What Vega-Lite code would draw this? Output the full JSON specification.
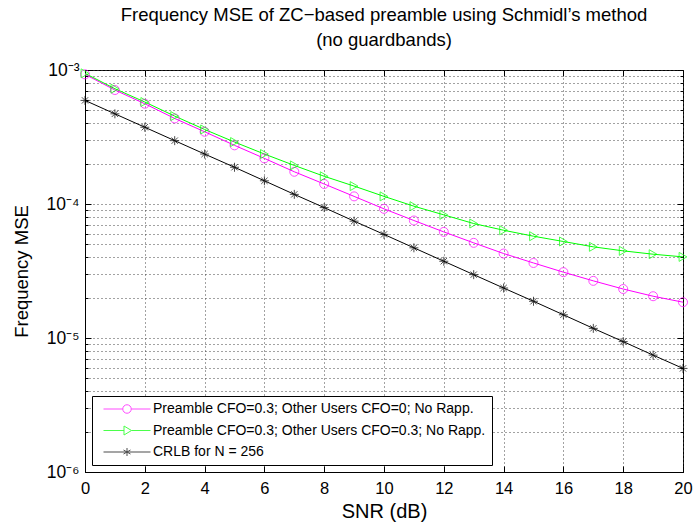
{
  "$schema": "https://vega.github.io/schema/vega-lite/v6.json",
  "width": 598,
  "height": 402,
  "autosize": {"type": "none"},
  "padding": {"left": 85, "top": 70, "right": 12, "bottom": 57},
  "background": "white",
  "title": {
    "text": ["Frequency MSE of ZC\u2212based preamble using Schmidl\u2019s method", "(no guardbands)"],
    "font": "Liberation Sans",
    "fontSize": 18.5,
    "fontWeight": "normal",
    "color": "black",
    "anchor": "middle",
    "lineHeight": 25,
    "offset": 12
  },
  "config": {
    "view": {"stroke": "black", "strokeWidth": 1},
    "font": "Liberation Sans"
  },
  "data": {
    "values": [
      {"snr": 0, "mse": 0.000928, "series": "Preamble CFO=0.3; Other Users CFO=0; No Rapp."},
      {"snr": 1, "mse": 0.000709, "series": "Preamble CFO=0.3; Other Users CFO=0; No Rapp."},
      {"snr": 2, "mse": 0.000560, "series": "Preamble CFO=0.3; Other Users CFO=0; No Rapp."},
      {"snr": 3, "mse": 0.000435, "series": "Preamble CFO=0.3; Other Users CFO=0; No Rapp."},
      {"snr": 4, "mse": 0.000346, "series": "Preamble CFO=0.3; Other Users CFO=0; No Rapp."},
      {"snr": 5, "mse": 0.000274, "series": "Preamble CFO=0.3; Other Users CFO=0; No Rapp."},
      {"snr": 6, "mse": 0.000219, "series": "Preamble CFO=0.3; Other Users CFO=0; No Rapp."},
      {"snr": 7, "mse": 0.000174, "series": "Preamble CFO=0.3; Other Users CFO=0; No Rapp."},
      {"snr": 8, "mse": 0.000141, "series": "Preamble CFO=0.3; Other Users CFO=0; No Rapp."},
      {"snr": 9, "mse": 0.000114, "series": "Preamble CFO=0.3; Other Users CFO=0; No Rapp."},
      {"snr": 10, "mse": 0.0000920, "series": "Preamble CFO=0.3; Other Users CFO=0; No Rapp."},
      {"snr": 11, "mse": 0.0000753, "series": "Preamble CFO=0.3; Other Users CFO=0; No Rapp."},
      {"snr": 12, "mse": 0.0000619, "series": "Preamble CFO=0.3; Other Users CFO=0; No Rapp."},
      {"snr": 13, "mse": 0.0000513, "series": "Preamble CFO=0.3; Other Users CFO=0; No Rapp."},
      {"snr": 14, "mse": 0.0000427, "series": "Preamble CFO=0.3; Other Users CFO=0; No Rapp."},
      {"snr": 15, "mse": 0.0000363, "series": "Preamble CFO=0.3; Other Users CFO=0; No Rapp."},
      {"snr": 16, "mse": 0.0000310, "series": "Preamble CFO=0.3; Other Users CFO=0; No Rapp."},
      {"snr": 17, "mse": 0.0000267, "series": "Preamble CFO=0.3; Other Users CFO=0; No Rapp."},
      {"snr": 18, "mse": 0.0000232, "series": "Preamble CFO=0.3; Other Users CFO=0; No Rapp."},
      {"snr": 19, "mse": 0.0000205, "series": "Preamble CFO=0.3; Other Users CFO=0; No Rapp."},
      {"snr": 20, "mse": 0.0000185, "series": "Preamble CFO=0.3; Other Users CFO=0; No Rapp."},
      {"snr": 0, "mse": 0.000944, "series": "Preamble CFO=0.3; Other Users CFO=0.3; No Rapp."},
      {"snr": 1, "mse": 0.000725, "series": "Preamble CFO=0.3; Other Users CFO=0.3; No Rapp."},
      {"snr": 2, "mse": 0.000577, "series": "Preamble CFO=0.3; Other Users CFO=0.3; No Rapp."},
      {"snr": 3, "mse": 0.000453, "series": "Preamble CFO=0.3; Other Users CFO=0.3; No Rapp."},
      {"snr": 4, "mse": 0.000360, "series": "Preamble CFO=0.3; Other Users CFO=0.3; No Rapp."},
      {"snr": 5, "mse": 0.000290, "series": "Preamble CFO=0.3; Other Users CFO=0.3; No Rapp."},
      {"snr": 6, "mse": 0.000236, "series": "Preamble CFO=0.3; Other Users CFO=0.3; No Rapp."},
      {"snr": 7, "mse": 0.000194, "series": "Preamble CFO=0.3; Other Users CFO=0.3; No Rapp."},
      {"snr": 8, "mse": 0.000161, "series": "Preamble CFO=0.3; Other Users CFO=0.3; No Rapp."},
      {"snr": 9, "mse": 0.000136, "series": "Preamble CFO=0.3; Other Users CFO=0.3; No Rapp."},
      {"snr": 10, "mse": 0.000114, "series": "Preamble CFO=0.3; Other Users CFO=0.3; No Rapp."},
      {"snr": 11, "mse": 0.0000963, "series": "Preamble CFO=0.3; Other Users CFO=0.3; No Rapp."},
      {"snr": 12, "mse": 0.0000830, "series": "Preamble CFO=0.3; Other Users CFO=0.3; No Rapp."},
      {"snr": 13, "mse": 0.0000715, "series": "Preamble CFO=0.3; Other Users CFO=0.3; No Rapp."},
      {"snr": 14, "mse": 0.0000637, "series": "Preamble CFO=0.3; Other Users CFO=0.3; No Rapp."},
      {"snr": 15, "mse": 0.0000575, "series": "Preamble CFO=0.3; Other Users CFO=0.3; No Rapp."},
      {"snr": 16, "mse": 0.0000525, "series": "Preamble CFO=0.3; Other Users CFO=0.3; No Rapp."},
      {"snr": 17, "mse": 0.0000479, "series": "Preamble CFO=0.3; Other Users CFO=0.3; No Rapp."},
      {"snr": 18, "mse": 0.0000447, "series": "Preamble CFO=0.3; Other Users CFO=0.3; No Rapp."},
      {"snr": 19, "mse": 0.0000422, "series": "Preamble CFO=0.3; Other Users CFO=0.3; No Rapp."},
      {"snr": 20, "mse": 0.0000403, "series": "Preamble CFO=0.3; Other Users CFO=0.3; No Rapp."},
      {"snr": 0, "mse": 0.000593, "series": "CRLB for N = 256"},
      {"snr": 1, "mse": 0.000471, "series": "CRLB for N = 256"},
      {"snr": 2, "mse": 0.000374, "series": "CRLB for N = 256"},
      {"snr": 3, "mse": 0.000297, "series": "CRLB for N = 256"},
      {"snr": 4, "mse": 0.000236, "series": "CRLB for N = 256"},
      {"snr": 5, "mse": 0.000188, "series": "CRLB for N = 256"},
      {"snr": 6, "mse": 0.000149, "series": "CRLB for N = 256"},
      {"snr": 7, "mse": 0.000118, "series": "CRLB for N = 256"},
      {"snr": 8, "mse": 0.0000940, "series": "CRLB for N = 256"},
      {"snr": 9, "mse": 0.0000745, "series": "CRLB for N = 256"},
      {"snr": 10, "mse": 0.0000593, "series": "CRLB for N = 256"},
      {"snr": 11, "mse": 0.0000471, "series": "CRLB for N = 256"},
      {"snr": 12, "mse": 0.0000374, "series": "CRLB for N = 256"},
      {"snr": 13, "mse": 0.0000297, "series": "CRLB for N = 256"},
      {"snr": 14, "mse": 0.0000236, "series": "CRLB for N = 256"},
      {"snr": 15, "mse": 0.0000188, "series": "CRLB for N = 256"},
      {"snr": 16, "mse": 0.0000149, "series": "CRLB for N = 256"},
      {"snr": 17, "mse": 0.0000118, "series": "CRLB for N = 256"},
      {"snr": 18, "mse": 0.0000094, "series": "CRLB for N = 256"},
      {"snr": 19, "mse": 0.00000745, "series": "CRLB for N = 256"},
      {"snr": 20, "mse": 0.00000593, "series": "CRLB for N = 256"}
    ]
  },
  "layer": [
    {
      "mark": {"type": "line", "strokeWidth": 1},
      "encoding": {
        "x": {
          "field": "snr", "type": "quantitative",
          "scale": {"domain": [0, 20], "nice": false, "zero": false},
          "axis": {
            "values": [0, 2, 4, 6, 8, 10, 12, 14, 16, 18, 20],
            "title": "SNR (dB)",
            "grid": true, "gridDash": [1, 3], "gridColor": "#444", "gridWidth": 1,
            "tickSize": -6, "tickColor": "black", "domainColor": "black",
            "labelFontSize": 16.5, "labelPadding": 14, "labelColor": "black", "labelFont": "Liberation Sans",
            "labelFlush": false, "labelOverlap": false,
            "titleFontSize": 20, "titleFontWeight": "normal", "titleColor": "black", "titleFont": "Liberation Sans", "titlePadding": 5
          }
        },
        "y": {
          "field": "mse", "type": "quantitative",
          "scale": {"type": "log", "domain": [0.000001, 0.001], "nice": false},
          "axis": {
            "values": [0.000001, 0.000002, 0.000003, 0.000004, 0.000005, 0.000006, 0.000007, 0.000008, 0.000009,
                       0.00001, 0.00002, 0.00003, 0.00004, 0.00005, 0.00006, 0.00007, 0.00008, 0.00009,
                       0.0001, 0.0002, 0.0003, 0.0004, 0.0005, 0.0006, 0.0007, 0.0008, 0.0009, 0.001],
            "labelExpr": "datum.value == 0.001 ? '10\u207b\u00b3' : datum.value == 0.0001 ? '10\u207b\u2074' : datum.value == 0.00001 ? '10\u207b\u2075' : datum.value == 0.000001 ? '10\u207b\u2076' : ''",
            "title": "Frequency MSE",
            "grid": true, "gridDash": [1, 3], "gridColor": "#444", "gridWidth": 1,
            "tickSize": {"condition": {"test": "datum.value == 0.001 || datum.value == 0.0001 || datum.value == 0.00001 || datum.value == 0.000001", "value": -6}, "value": -3},
            "tickColor": "black", "domainColor": "black",
            "labelFontSize": 17.5, "labelPadding": 12, "labelColor": "black", "labelFont": "Liberation Sans",
            "labelFlush": false, "labelOverlap": false,
            "titleFontSize": 18.5, "titleFontWeight": "normal", "titleColor": "black", "titleFont": "Liberation Sans", "titlePadding": 15
          }
        },
        "color": {
          "field": "series", "type": "nominal",
          "scale": {
            "domain": ["Preamble CFO=0.3; Other Users CFO=0; No Rapp.", "Preamble CFO=0.3; Other Users CFO=0.3; No Rapp.", "CRLB for N = 256"],
            "range": ["#ff00ff", "#00ff00", "#000000"]
          },
          "legend": {
            "title": null,
            "orient": "bottom-left",
            "offset": 7,
            "padding": 6,
            "strokeColor": "black",
            "fillColor": "white",
            "cornerRadius": 0,
            "labelFontSize": 14,
            "labelColor": "black",
            "labelFont": "Liberation Sans",
            "labelLimit": 500,
            "symbolOffset": 22,
            "labelOffset": 19,
            "rowPadding": 7.5,
            "symbolSize": 100,
            "symbolStrokeWidth": 1,
            "symbolFillColor": "transparent"
          }
        }
      }
    },
    {
      "transform": [{"filter": "datum.series === 'Preamble CFO=0.3; Other Users CFO=0; No Rapp.'"}],
      "mark": {"type": "point", "shape": "circle", "filled": false, "strokeWidth": 1, "size": 81},
      "encoding": {
        "x": {"field": "snr", "type": "quantitative", "axis": null},
        "y": {"field": "mse", "type": "quantitative", "axis": null},
        "color": {"field": "series", "type": "nominal"}
      }
    },
    {
      "transform": [{"filter": "datum.series === 'Preamble CFO=0.3; Other Users CFO=0.3; No Rapp.'"}],
      "mark": {"type": "point", "shape": "triangle-right", "filled": false, "strokeWidth": 1, "size": 81},
      "encoding": {
        "x": {"field": "snr", "type": "quantitative", "axis": null},
        "y": {"field": "mse", "type": "quantitative", "axis": null},
        "color": {"field": "series", "type": "nominal"}
      }
    },
    {
      "transform": [{"filter": "datum.series === 'CRLB for N = 256'"}],
      "mark": {"type": "point", "shape": "M0,-1V1M-1,0H1M-0.7,-0.7L0.7,0.7M-0.7,0.7L0.7,-0.7", "filled": false, "strokeWidth": 1, "size": 81},
      "encoding": {
        "x": {"field": "snr", "type": "quantitative", "axis": null},
        "y": {"field": "mse", "type": "quantitative", "axis": null},
        "color": {"field": "series", "type": "nominal"}
      }
    },
    {
      "transform": [{"filter": "datum.snr < 0"}],
      "mark": {"type": "point", "filled": false, "strokeWidth": 1, "size": 100},
      "encoding": {
        "x": {"field": "snr", "type": "quantitative", "axis": null},
        "y": {"field": "mse", "type": "quantitative", "axis": null},
        "color": {"field": "series", "type": "nominal"},
        "shape": {
          "field": "series", "type": "nominal",
          "scale": {
            "domain": ["Preamble CFO=0.3; Other Users CFO=0; No Rapp.", "Preamble CFO=0.3; Other Users CFO=0.3; No Rapp.", "CRLB for N = 256"],
            "range": [
              "M-4.7,0H-0.85M0.85,0H4.7M-0.85,0A0.85,0.85 0 1,1 0.85,0A0.85,0.85 0 1,1 -0.85,0",
              "M-4.7,0H-0.6M0.9,0H4.7M-0.6,-0.9L0.9,0L-0.6,0.9Z",
              "M-4.7,0H4.7M0,-0.8V0.8M-0.7,-0.4L0.7,0.4M-0.7,0.4L0.7,-0.4"
            ]
          }
        }
      }
    },
    {
      "mark": {"type": "point", "opacity": 0},
      "encoding": {
        "x": {
          "field": "snr", "type": "quantitative",
          "axis": {
            "orient": "top", "values": [0, 2, 4, 6, 8, 10, 12, 14, 16, 18, 20],
            "labels": false, "title": null, "grid": false, "domain": false,
            "tickSize": -6, "tickColor": "black"
          }
        },
        "y": {
          "field": "mse", "type": "quantitative",
          "axis": {
            "orient": "right",
            "values": [0.000001, 0.000002, 0.000003, 0.000004, 0.000005, 0.000006, 0.000007, 0.000008, 0.000009,
                       0.00001, 0.00002, 0.00003, 0.00004, 0.00005, 0.00006, 0.00007, 0.00008, 0.00009,
                       0.0001, 0.0002, 0.0003, 0.0004, 0.0005, 0.0006, 0.0007, 0.0008, 0.0009, 0.001],
            "labels": false, "title": null, "grid": false, "domain": false,
            "tickSize": {"condition": {"test": "datum.value == 0.001 || datum.value == 0.0001 || datum.value == 0.00001 || datum.value == 0.000001", "value": -6}, "value": -3},
            "tickColor": "black"
          }
        }
      }
    }
  ],
  "resolve": {"axis": {"x": "independent", "y": "independent"}}
}
